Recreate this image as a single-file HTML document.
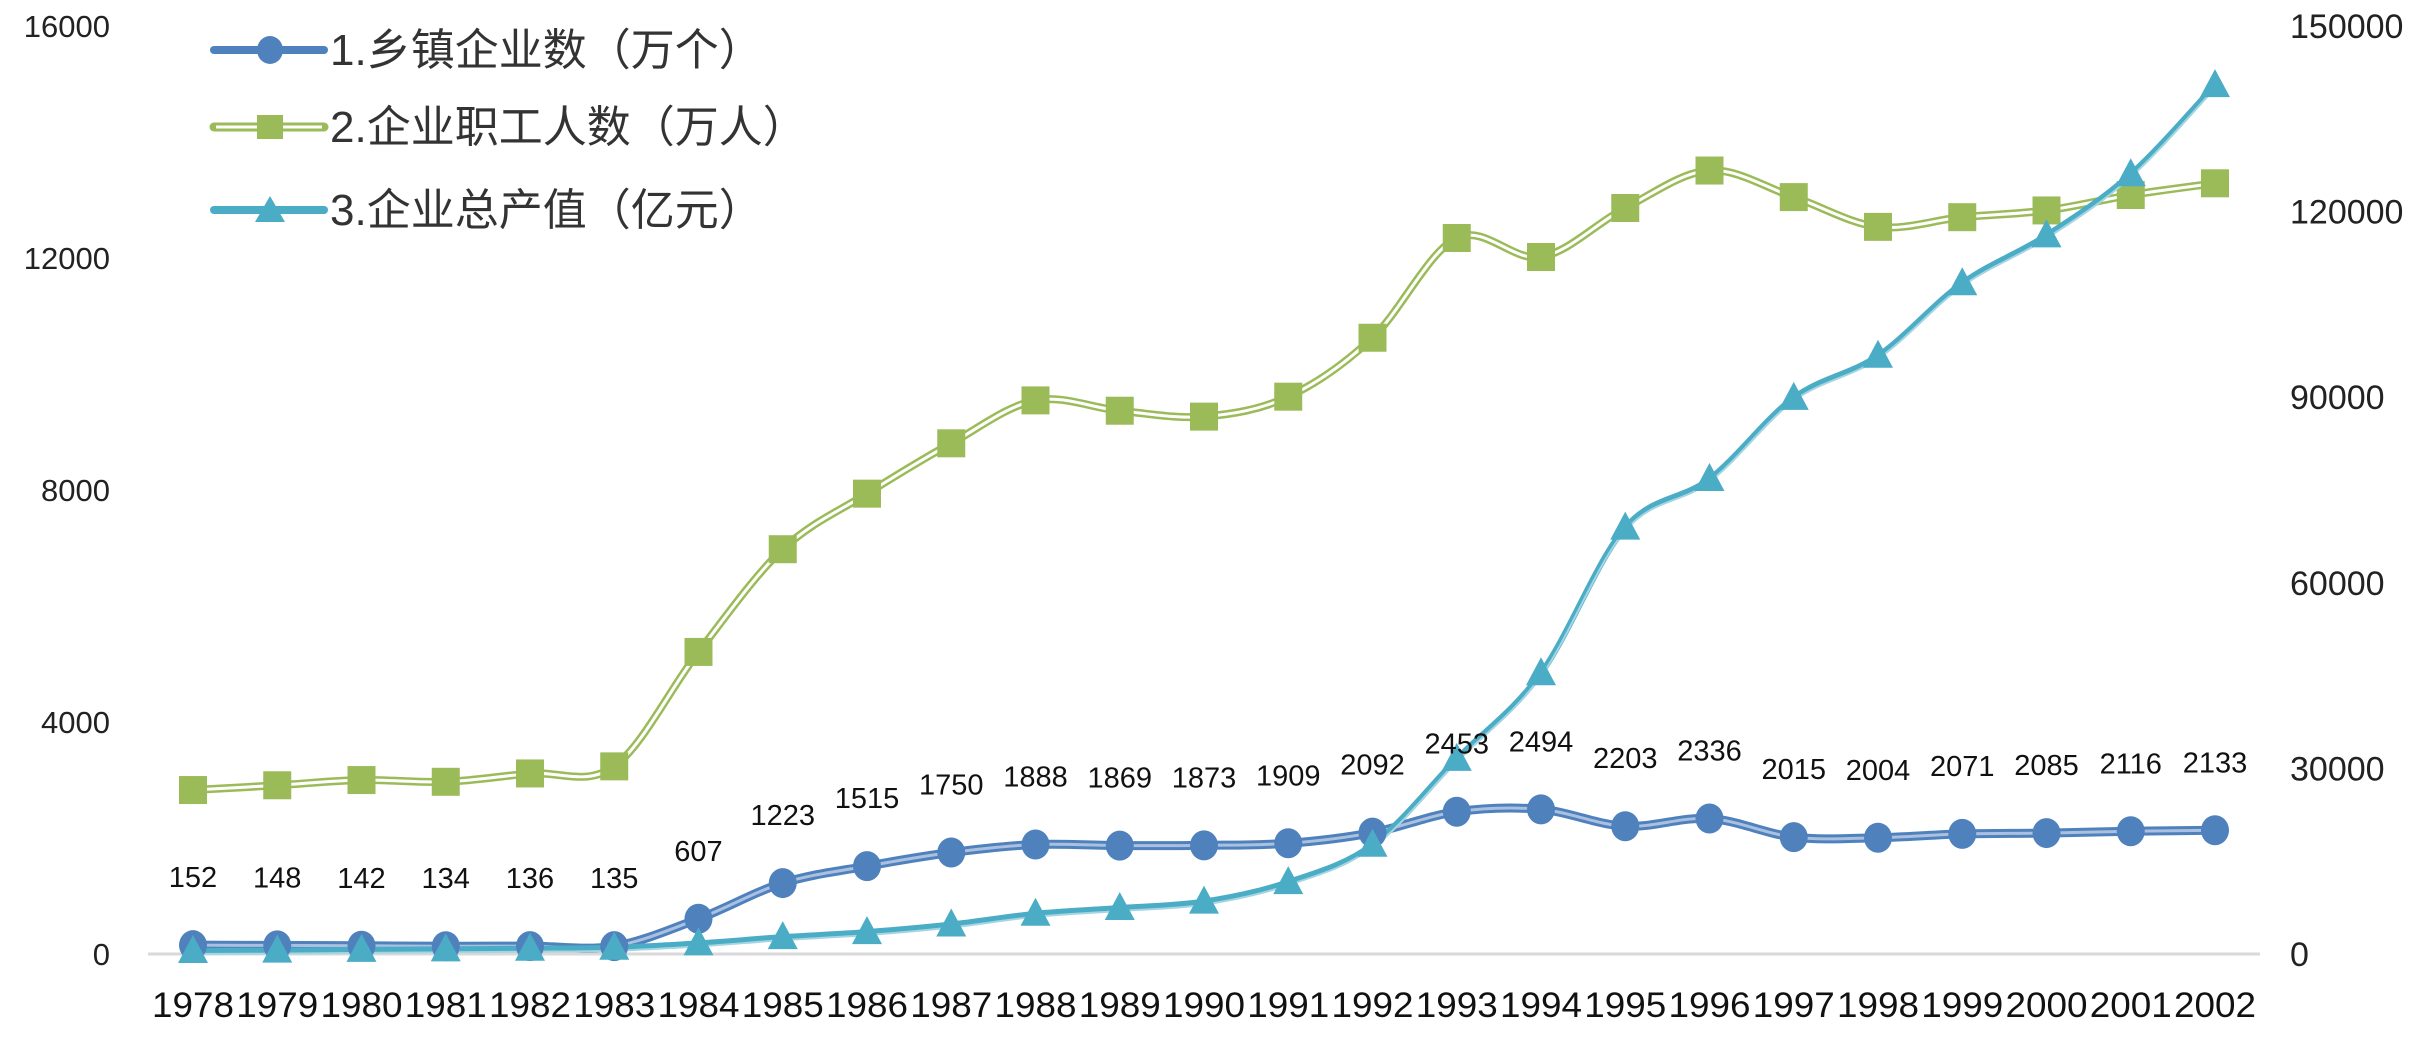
<!DOCTYPE html>
<html><head><meta charset="utf-8"><style>
html,body{margin:0;padding:0;background:#fff;}
svg text{font-family:"Liberation Sans","Noto Sans CJK SC",sans-serif;}
</style></head><body>
<svg id="chart" width="2425" height="1043" xmlns="http://www.w3.org/2000/svg">
<g id="axes"></g><g id="series"></g><g id="legend"></g>
</svg>
<script>
const years = ["1978","1979","1980","1981","1982","1983","1984","1985","1986","1987","1988","1989","1990","1991","1992","1993","1994","1995","1996","1997","1998","1999","2000","2001","2002"];
const enterprises = [152,148,142,134,136,135,607,1223,1515,1750,1888,1869,1873,1909,2092,2453,2494,2203,2336,2015,2004,2071,2085,2116,2133];
const employees = [2827,2909,2999,2969,3113,3235,5208,6979,7937,8805,9545,9367,9265,9609,10625,12345,12017,12862,13508,13050,12537,12704,12820,13086,13288];
const output = [493,548,657,745,853,1017,1710,2728,3541,4764,6496,7428,8462,11622,17660,31540,45378,68915,76778,89900,96694,108426,116150,126046,140435];
const leftTicks = [0,4000,8000,12000,16000];
const rightTicks = [0,30000,60000,90000,120000,150000];
const legendLabels = ["1.乡镇企业数（万个）","2.企业职工人数（万人）","3.企业总产值（亿元）"];

const NS="http://www.w3.org/2000/svg";
const X0=193, X1=2215, Y0=954, YT=26;
const xPos=i=>X0+(X1-X0)*i/(years.length-1);
const yL=v=>Y0-(Y0-YT)*v/16000;
const yR=v=>Y0-(Y0-YT)*v/150000;
function mk(tag,attrs,parent){const e=document.createElementNS(NS,tag);for(const k in attrs)e.setAttribute(k,attrs[k]);parent.appendChild(e);return e;}
const axes=document.getElementById('axes'), series=document.getElementById('series'), legend=document.getElementById('legend');

let base=mk('line',{x1:X0-45,x2:X1+45,y1:Y0,y2:Y0,stroke:'#d9d9d9','stroke-width':3},axes);


leftTicks.forEach(v=>{
  const t=mk('text',{x:110,y:yL(v)+11,'text-anchor':'end','font-size':31,fill:'#222'},axes);
  t.textContent=v;
  
  
});
rightTicks.forEach(v=>{
  const t=mk('text',{x:2290,y:yR(v)+12,'font-size':34,fill:'#222'},axes);
  t.textContent=v;
  
  
});
years.forEach((y,i)=>{
  const t=mk('text',{x:xPos(i),y:1017,'text-anchor':'middle','font-size':35,fill:'#111',textLength:82,lengthAdjust:'spacingAndGlyphs'},axes);
  t.textContent=y;
  
  
});

function smooth(pts){
  let d=`M${pts[0][0]},${pts[0][1]}`;
  for(let i=0;i<pts.length-1;i++){
    const p0=pts[i-1]||pts[i],p1=pts[i],p2=pts[i+1],p3=pts[i+2]||p2;
    const c1=[p1[0]+(p2[0]-p0[0])/6,p1[1]+(p2[1]-p0[1])/6];
    const c2=[p2[0]-(p3[0]-p1[0])/6,p2[1]-(p3[1]-p1[1])/6];
    d+=` C${c1[0]},${c1[1]} ${c2[0]},${c2[1]} ${p2[0]},${p2[1]}`;
  }
  return d;
}
const pE=employees.map((v,i)=>[xPos(i),yL(v)]);
let l2=mk('path',{d:smooth(pE),fill:'none',stroke:'#9bbb59','stroke-width':8},series);


mk('path',{d:smooth(pE),fill:'none',stroke:'#fff','stroke-width':3},series);
pE.forEach(p=>{
  const r=mk('rect',{x:p[0]-14,y:p[1]-14,width:28,height:28,fill:'#9bbb59'},series);
  
  
});
const pN=enterprises.map((v,i)=>[xPos(i),yL(v)]);
let l1=mk('path',{d:smooth(pN),fill:'none',stroke:'#4f81bd','stroke-width':9},series);


mk('path',{d:smooth(pN),fill:'none',stroke:'#a9c0e0','stroke-width':3},series);
const pO=output.map((v,i)=>[xPos(i),yR(v)]);
let l3=mk('path',{d:smooth(pO),fill:'none',stroke:'#4bacc6','stroke-width':6},series);


mk('path',{d:smooth(pO),fill:'none',stroke:'#a5d5e2','stroke-width':2,transform:'translate(0,3)'},series);
pN.forEach(p=>{
  const c=mk('ellipse',{cx:p[0],cy:p[1],rx:14,ry:15,fill:'#4f81bd'},series);
  
  
});
pO.forEach(p=>{
  const t=mk('polygon',{points:`${p[0]},${p[1]-16} ${p[0]+15},${p[1]+12} ${p[0]-15},${p[1]+12}`,fill:'#4bacc6'},series);
  
  
});
pN.forEach((p,i)=>{
  const t=mk('text',{x:p[0],y:p[1]-58,'text-anchor':'middle','font-size':29,fill:'#111'},series);
  t.textContent=enterprises[i];
  
  
});

const legY=[50,127,210];
legY.forEach((y,i)=>{
  const g=mk('g',{},legend);
  
  
  if(i===0){mk('line',{x1:214,x2:324,y1:y,y2:y,stroke:'#4f81bd','stroke-width':8,'stroke-linecap':'round'},g);mk('ellipse',{cx:270,cy:y,rx:13,ry:14,fill:'#4f81bd'},g);}
  if(i===1){mk('line',{x1:214,x2:324,y1:y,y2:y,stroke:'#9bbb59','stroke-width':9,'stroke-linecap':'round'},g);mk('line',{x1:216,x2:322,y1:y,y2:y,stroke:'#fff','stroke-width':3},g);mk('rect',{x:257,y:y-12,width:26,height:24,fill:'#9bbb59'},g);}
  if(i===2){mk('line',{x1:214,x2:324,y1:y,y2:y,stroke:'#4bacc6','stroke-width':8,'stroke-linecap':'round'},g);mk('polygon',{points:`270,${y-14} 285,${y+12} 255,${y+12}`,fill:'#4bacc6'},g);}
  const t=mk('text',{x:330,y:y+15,'font-size':44,fill:'#333'},g);
  t.textContent=legendLabels[i];
});
</script>
</body></html>
